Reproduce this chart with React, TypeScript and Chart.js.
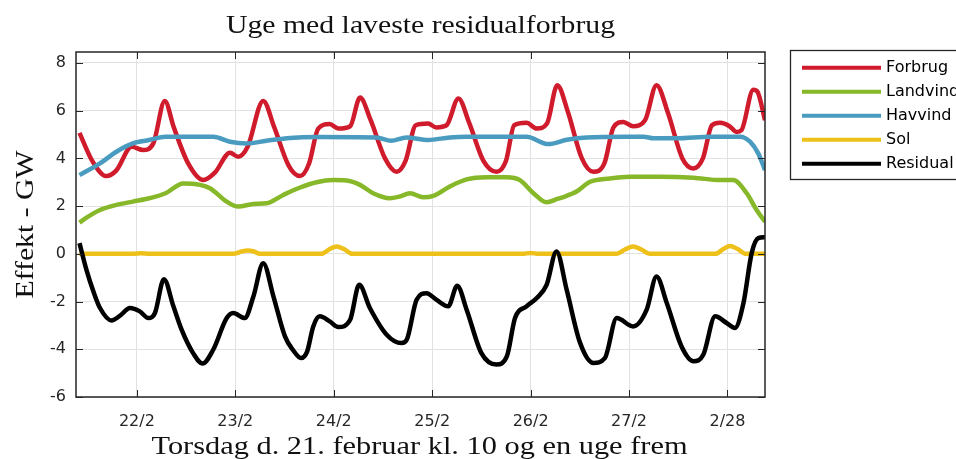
import React, { useEffect, useRef } from "react";
import { Chart, registerables } from "chart.js";

Chart.register(...registerables);

// ---- data (hours since Thu 21 Feb 10:00, GW) ----
const dayTicks = [14, 38, 62, 86, 110, 134, 158];
const dayLabels = ["22/2", "23/2", "24/2", "25/2", "26/2", "27/2", "2/28"];
const yTicks = [-6, -4, -2, 0, 2, 4, 6, 8];

const seriesNames = ["Forbrug", "Landvind", "Havvind", "Sol", "Residual"];
const seriesColors = ["#CF1B2B", "#86B829", "#4A9BC0", "#EEC01A", "#000000"];

const forbrug: [number, number][] = [
  [0, 5.07], [3, 3.93], [6.5, 3.26], [9, 3.5], [12.7, 4.49], [15.5, 4.35], [18, 4.63],
  [20.8, 6.41], [23, 5.3], [26.5, 3.79], [30.2, 3.09], [33, 3.4], [36.7, 4.24], [38.7, 4.07],
  [41, 4.49], [44.8, 6.41], [47.5, 5.3], [51, 3.7], [53.8, 3.26], [56, 3.8], [58.2, 5.25],
  [61, 5.44], [63.1, 5.25], [66, 5.35], [68.4, 6.55], [71, 5.6], [74.5, 4.0], [77.3, 3.44],
  [79.5, 3.9], [82, 5.39], [85, 5.46], [87, 5.3], [89.5, 5.39], [92.4, 6.51], [95, 5.5],
  [98.5, 3.9], [101.7, 3.44], [104, 3.9], [106, 5.39], [109, 5.49], [111.5, 5.25], [114, 5.46],
  [116.5, 7.07], [119, 6.0], [122.5, 4.0], [125.3, 3.44], [128, 3.8], [130.2, 5.3], [132.6, 5.53],
  [135, 5.35], [137.9, 5.6], [140.7, 7.07], [143.5, 5.9], [147, 4.0], [149.7, 3.58], [152, 4.0],
  [154.2, 5.39], [156.2, 5.49], [158.5, 5.35], [160.2, 5.11], [161.4, 5.18], [164.3, 6.88],
  [165.3, 6.8], [167.15, 5.6],
];

const landvind: [number, number][] = [
  [0, 1.31], [2, 1.55], [5, 1.84], [9, 2.05], [13, 2.19], [17, 2.33], [21, 2.54], [25.3, 2.95],
  [29.4, 2.89], [31.8, 2.75], [35.9, 2.19], [38.7, 1.98], [42.4, 2.09], [45.6, 2.12], [49.7, 2.47],
  [53.8, 2.78], [57.8, 3.0], [61.9, 3.09], [65.1, 3.07], [68.4, 2.89], [71.6, 2.54], [75.7, 2.33],
  [78, 2.4], [80.6, 2.54], [83.8, 2.37], [86.3, 2.43], [90.3, 2.82], [94.4, 3.12], [99.3, 3.21],
  [104.2, 3.21], [107.4, 3.09], [110.7, 2.54], [113.9, 2.16], [116.5, 2.3], [118, 2.38],
  [121.2, 2.61], [124.5, 3.02], [129.3, 3.16], [134.2, 3.23], [141.5, 3.23], [149.7, 3.19],
  [156.2, 3.09], [159.4, 3.09], [162.7, 2.54], [165.1, 1.84], [167.15, 1.35],
];

const havvind: [number, number][] = [
  [0, 3.3], [5, 3.79], [9, 4.28], [13, 4.63], [17, 4.77], [21, 4.91], [32.6, 4.91], [36.7, 4.7],
  [40.7, 4.63], [45.6, 4.74], [51.3, 4.86], [57.8, 4.9], [72.4, 4.88], [76, 4.74], [79.7, 4.88],
  [85, 4.77], [90.3, 4.88], [94.4, 4.91], [109, 4.91], [114.3, 4.6], [118.8, 4.78], [123.7, 4.88],
  [133.4, 4.91], [137.5, 4.91], [140, 4.84], [145.6, 4.84], [153.8, 4.91], [161.1, 4.91],
  [163.5, 4.7], [165.5, 4.21], [167.15, 3.51],
];

const sol: [number, number][] = [
  [0, 0], [13, 0], [15, 0.03], [17, 0], [37.5, 0], [39.5, 0.1], [41, 0.14], [42.5, 0.1], [44, 0],
  [59, 0], [61, 0.2], [62.7, 0.31], [64.5, 0.2], [66.5, 0], [108, 0], [110, 0.04], [112, 0],
  [131, 0], [133, 0.18], [135, 0.31], [137, 0.18], [139, 0], [155, 0], [157, 0.2], [158.6, 0.33],
  [160.5, 0.2], [162.5, 0], [167.15, 0],
];

const residual: [number, number][] = [
  [0, 0.45], [1.7, -0.67], [3.4, -1.58], [5, -2.27], [7.8, -2.79], [9.9, -2.59], [12.3, -2.27],
  [14.7, -2.41], [16.8, -2.69], [18.4, -2.48], [20.6, -1.06], [22.9, -2.2], [24.9, -3.18],
  [27.7, -4.16], [30, -4.6], [32.6, -4.02], [35.9, -2.69], [37.5, -2.48], [40.3, -2.69],
  [42.4, -1.79], [44.8, -0.39], [47.3, -1.79], [50.1, -3.46], [52.1, -4.04], [54, -4.37],
  [55.5, -4.1], [57, -3.04], [58.6, -2.62], [61, -2.83], [63.1, -3.07], [66, -2.76], [68.2, -1.3],
  [70.8, -2.27], [74.9, -3.39], [78.5, -3.74], [79.8, -3.6], [82.2, -1.92], [84.6, -1.65],
  [87, -1.92], [89.9, -2.2], [92.1, -1.34], [94.4, -2.34], [98, -4.16], [101.7, -4.64],
  [104.2, -4.3], [106.2, -2.69], [109, -2.2], [111.5, -1.85], [113.9, -1.3], [116.3, 0.1],
  [118.8, -1.51], [122, -3.7], [125.3, -4.57], [128.1, -4.37], [131, -2.69], [135, -3.04],
  [138.3, -2.34], [140.7, -0.95], [143.2, -2.06], [146.8, -3.88], [149.7, -4.5], [152.1, -4.23],
  [155, -2.62], [157.8, -2.9], [159.8, -3.11], [161.9, -2.06], [163.9, 0.03], [165.5, 0.66],
  [167.15, 0.7],
];

const allSeries = [forbrug, landvind, havvind, sol, residual];

const titleText = "Uge med laveste residualforbrug";
const xTitleText = "Torsdag d. 21. februar kl. 10 og en uge frem";
const yTitleText = "Effekt - GW";

const SERIF = "'Liberation Serif', 'Times New Roman', serif";
const SANS = "'DejaVu Sans', sans-serif";
const AXIS_COLOR = "#262626";

function drawSerif(
  ctx: CanvasRenderingContext2D,
  text: string,
  x: number,
  y: number,
  rotate: boolean,
  sx: number
) {
  ctx.save();
  ctx.translate(x, y);
  if (rotate) ctx.rotate(-Math.PI / 2);
  ctx.scale(sx, 1);
  ctx.font = `25px ${SERIF}`;
  ctx.fillStyle = "#111";
  ctx.textAlign = "center";
  ctx.textBaseline = "alphabetic";
  ctx.fillText(text, 0, 0);
  ctx.restore();
}

const decorPlugin = {
  id: "decor",
  afterDatasetsDraw(chart: any) {
    const { ctx, chartArea: a, scales } = chart;
    ctx.save();
    // inward tick marks (all four sides)
    ctx.strokeStyle = AXIS_COLOR;
    ctx.lineWidth = 1;
    const tl = 7;
    ctx.beginPath();
    for (const t of dayTicks) {
      const x = Math.round(scales.x.getPixelForValue(t)) + 0.5;
      ctx.moveTo(x, a.bottom);
      ctx.lineTo(x, a.bottom - tl);
      ctx.moveTo(x, a.top);
      ctx.lineTo(x, a.top + tl);
    }
    for (const v of yTicks) {
      const y = Math.round(scales.y.getPixelForValue(v)) + 0.5;
      ctx.moveTo(a.left, y);
      ctx.lineTo(a.left + tl, y);
      ctx.moveTo(a.right, y);
      ctx.lineTo(a.right - tl, y);
    }
    ctx.stroke();
    // axes box
    ctx.lineWidth = 1.5;
    ctx.strokeRect(a.left, a.top, a.right - a.left, a.bottom - a.top);

    // titles
    const cx = (a.left + a.right) / 2;
    const cy = (a.top + a.bottom) / 2;
    drawSerif(ctx, titleText, cx, 33, false, 1.19);
    drawSerif(ctx, xTitleText, cx - 1, 454, false, 1.215);
    drawSerif(ctx, yTitleText, 33, cy, true, 1.19);

    // legend
    const lx = 790.5;
    const ly = 50.5;
    ctx.fillStyle = "#ffffff";
    ctx.fillRect(lx, ly, 200, 129);
    ctx.strokeStyle = AXIS_COLOR;
    ctx.lineWidth = 1.3;
    ctx.strokeRect(lx, ly, 200, 129);
    chart.data.datasets.forEach((ds: any, i: number) => {
      const y = 67.7 + i * 24;
      ctx.strokeStyle = ds.borderColor;
      ctx.lineWidth = 4;
      ctx.beginPath();
      ctx.moveTo(802, y);
      ctx.lineTo(881, y);
      ctx.stroke();
      ctx.fillStyle = "#000";
      ctx.font = `16px ${SANS}`;
      ctx.textAlign = "left";
      ctx.textBaseline = "middle";
      ctx.fillText(ds.label, 886, y + 0.5);
    });
    ctx.restore();
  },
};

export default function App() {
  const ref = useRef<HTMLCanvasElement | null>(null);

  useEffect(() => {
    if (!ref.current) return;
    const chart = new Chart(ref.current, {
      type: "line",
      data: {
        datasets: allSeries.map((s, i) => ({
          label: seriesNames[i],
          data: s.map(([x, y]) => ({ x, y })),
          borderColor: seriesColors[i],
          backgroundColor: seriesColors[i],
          borderWidth: 4.5,
          pointRadius: 0,
          fill: false,
          cubicInterpolationMode: "monotone" as const,
          order: allSeries.length - 1 - i,
        })),
      },
      options: {
        responsive: false,
        animation: false,
        devicePixelRatio: 1,
        layout: { padding: { top: 52, right: 191, left: 0, bottom: 0 } },
        plugins: {
          legend: { display: false },
          title: { display: false },
          tooltip: { enabled: false },
        },
        scales: {
          x: {
            type: "linear",
            min: -0.85,
            max: 167.15,
            afterBuildTicks: (s: any) => {
              s.ticks = dayTicks.map((v) => ({ value: v }));
            },
            afterFit: (s: any) => {
              s.height = 62;
            },
            ticks: {
              autoSkip: false,
              maxRotation: 0,
              padding: 15,
              color: AXIS_COLOR,
              font: { family: SANS, size: 16 },
              callback: (v: any) => {
                const k = dayTicks.indexOf(Number(v));
                return k >= 0 ? dayLabels[k] : "";
              },
            },
            grid: { color: "#e2e2e2", lineWidth: 1, drawTicks: false },
            border: { display: false },
          },
          y: {
            type: "linear",
            min: -6,
            max: 8.46,
            afterBuildTicks: (s: any) => {
              s.ticks = yTicks.map((v) => ({ value: v }));
            },
            afterFit: (s: any) => {
              s.width = 76;
            },
            ticks: {
              padding: 10,
              color: AXIS_COLOR,
              font: { family: SANS, size: 16 },
              callback: (v: any) => String(v),
            },
            grid: { color: "#e2e2e2", lineWidth: 1, drawTicks: false },
            border: { display: false },
          },
        },
      },
      plugins: [decorPlugin],
    });
    return () => chart.destroy();
  }, []);

  return (
    <div style={{ position: "absolute", left: 0, top: 0, width: 956, height: 459, background: "#fff" }}>
      <canvas ref={ref} width={956} height={459} style={{ display: "block" }} />
    </div>
  );
}
